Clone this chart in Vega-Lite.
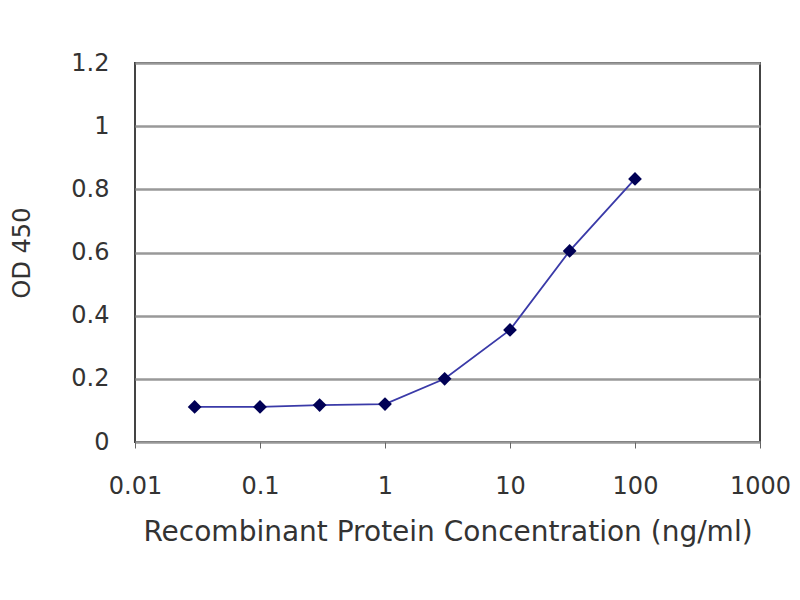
{
  "$schema": "https://vega.github.io/schema/vega-lite/v6.json",
  "autosize": "none",
  "width": 625,
  "height": 379,
  "padding": {"left": 135, "top": 63, "right": 40, "bottom": 158},
  "background": "white",
  "data": {
    "values": [
      {"conc": 0.03, "od": 0.111},
      {"conc": 0.1, "od": 0.111},
      {"conc": 0.3, "od": 0.117},
      {"conc": 1, "od": 0.12},
      {"conc": 3, "od": 0.2},
      {"conc": 10, "od": 0.355},
      {"conc": 30, "od": 0.605},
      {"conc": 100, "od": 0.833}
    ]
  },
  "encoding": {
    "x": {
      "field": "conc",
      "type": "quantitative",
      "title": "Recombinant Protein Concentration (ng/ml)",
      "scale": {"type": "log", "domain": [0.01, 1000], "nice": false},
      "axis": {
        "values": [0.01, 0.1, 1, 10, 100, 1000],
        "format": "~g",
        "grid": false,
        "labelFlush": false,
        "labelOverlap": false,
        "tickSize": 6,
        "tickColor": "#666",
        "labelPadding": 26,
        "titlePadding": 20,
        "titleFontSize": 28
      }
    },
    "y": {
      "field": "od",
      "type": "quantitative",
      "title": "OD 450",
      "scale": {"domain": [0, 1.2], "nice": false},
      "axis": {
        "values": [0, 0.2, 0.4, 0.6, 0.8, 1, 1.2],
        "format": "~g",
        "grid": true,
        "gridColor": "#999",
        "gridWidth": 2.5,
        "tickSize": 0,
        "labelFlush": false,
        "labelPadding": 26,
        "titlePadding": 36
      }
    }
  },
  "layer": [
    {"mark": {"type": "line", "color": "#3a3aa8", "strokeWidth": 1.8}},
    {"mark": {"type": "point", "shape": "diamond", "filled": true, "color": "#000055", "size": 190, "opacity": 1}}
  ],
  "config": {
    "font": "DejaVu Sans",
    "view": {"stroke": "#444", "strokeWidth": 2},
    "axis": {
      "labelFont": "DejaVu Sans",
      "titleFont": "DejaVu Sans",
      "labelFontSize": 24,
      "titleFontSize": 24,
      "titleFontWeight": "normal",
      "labelColor": "#333",
      "titleColor": "#333",
      "domain": false
    }
  }
}
